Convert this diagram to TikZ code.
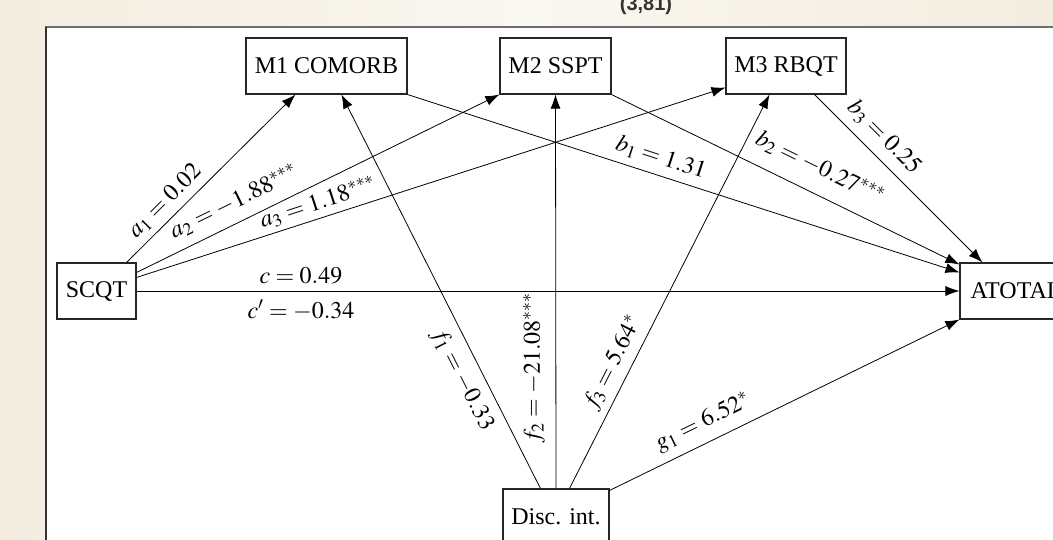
\documentclass[tikz,border=0pt]{standalone}
\usepackage{mathptmx}
\usepackage[no-math]{fontspec}
\setmainfont{Liberation Serif}
\newfontfamily\topfont{Liberation Sans}
\usetikzlibrary{arrows.meta,calc}
\definecolor{bgA}{HTML}{F3ECDF}
\definecolor{bgB}{HTML}{FAF8F2}
\definecolor{panelline}{HTML}{6E6E6E}
\tikzset{
  box/.style={draw=black!85, line width=0.8pt, fill=white, inner sep=0pt,
    minimum height=42pt, font=\fontsize{18}{20}\selectfont},
  conn/.style={line width=0.6pt, -{Latex[length=10.5pt,width=7.5pt]}},
  lbl/.style={inner sep=1pt, font=\fontsize{18}{20}\selectfont}
}
\begin{document}
\begin{tikzpicture}[x=0.75pt,y=-0.75pt]
\clip (0,0) rectangle (1053,539);
\shade[left color=bgA, right color=bgA, middle color=bgB] (0,0) rectangle (1053,539);
\node[anchor=base, text=black!80, font=\topfont\bfseries\fontsize{15}{16}\selectfont] (toptext) at (646,11) {(3,81)};
\draw[panelline, line width=1.2pt, fill=white] (46,27) rectangle (1070,560);
\draw[black!80, line width=1.2pt] (46,27) -- (46,560);

\node[box, minimum width=59.25pt] (scqt) at (96.5,291) {SCQT};
\node[box, minimum width=120.75pt] (m1) at (326.5,66) {M1 COMORB};
\node[box, minimum width=83.25pt] (m2) at (555.5,66) {M2 SSPT};
\node[box, minimum width=90pt] (m3) at (786,66) {M3 RBQT};
\node[box, minimum width=84pt] (atotal) at (1016,291) {ATOTAL};
\node[box, minimum width=79.5pt] (disc) at (556,517) {Disc. int.};

\draw[conn] ($(scqt.north east)+(-10,0)$) -- ($(m1.south west)+(50,0)$);
\draw[conn] ($(scqt.north east)+(0,10)$) -- (m2.south west);
\draw[conn] ($(scqt.north east)+(0,15)$) -- ($(m3.south west)+(0,-7)$);
\draw[conn] (scqt.east) -- (atotal.west);
\draw[conn] (m1.south east) -- ($(atotal.north west)+(0,10)$);
\draw[conn] (m2.south east) -- ($(atotal.north west)+(0,2)$);
\draw[conn] ($(m3.south west)+(89,0)$) -- ($(atotal.north west)+(23,0)$);
\draw[conn] ($(disc.north west)+(38,0)$) -- ($(m1.south west)+(96,0)$);
\draw[conn] (disc.north) -- (m2.south);
\draw[conn] ($(disc.north west)+(67,0)$) -- ($(m3.south west)+(44,0)$);
\draw[conn] ($(disc.north east)+(0,2)$) -- (atotal.south west);

\node[lbl, rotate=45] (la1) at (165,201) {$a_1 = 0.02$};
\node[lbl, rotate=26] (la2) at (234,202) {$a_2 = -1.88^{***}$};
\node[lbl, rotate=18] (la3) at (318,203) {$a_3 = 1.18^{***}$};
\node[lbl] (lc) at (301,276) {$c = 0.49$};
\node[lbl] (lcp) at (301,310) {$c' = -0.34$};
\node[lbl, rotate=-18] (lb1) at (661,158) {$b_1 = 1.31$};
\node[lbl, rotate=-26] (lb2) at (820,168) {$b_2 = -0.27^{***}$};
\node[lbl, rotate=-45] (lb3) at (884,137) {$b_3 = 0.25$};
\node[lbl, rotate=-63] (lf1) at (462,380) {$f_1 = -0.33$};
\node[lbl, rotate=90] (lf2) at (534,368) {$f_2 = -21.08^{***}$};
\node[lbl, rotate=63] (lf3) at (613,363) {$f_3 = 5.64^{*}$};
\node[lbl, rotate=26] (lg1) at (703,422) {$g_1 = 6.52^{*}$};
\end{tikzpicture}
\end{document}
